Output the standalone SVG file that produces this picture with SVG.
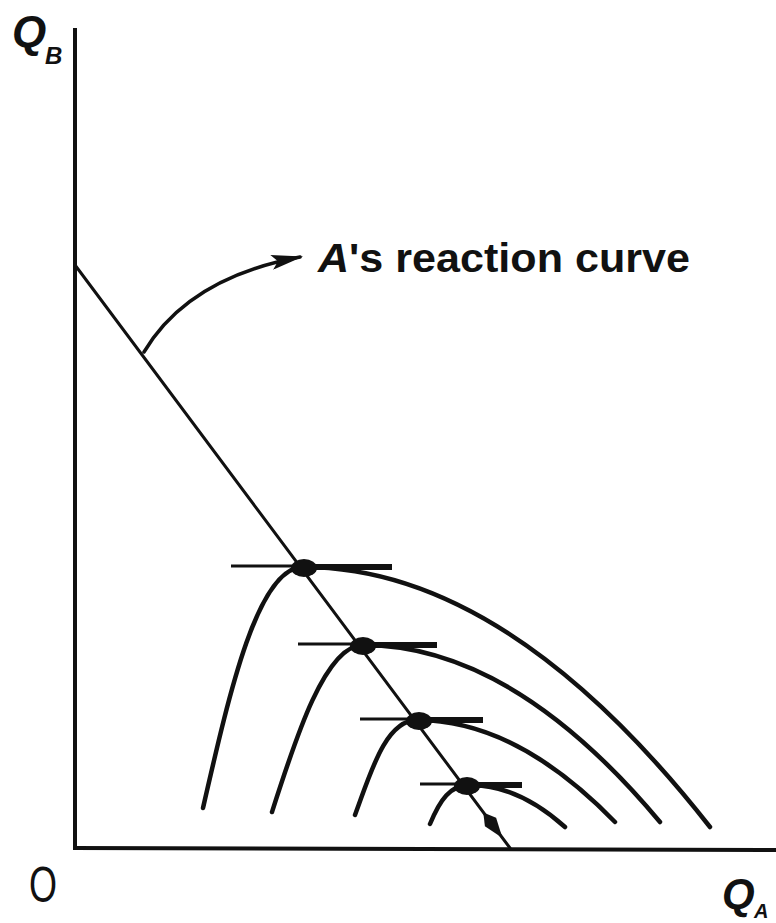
<svg xmlns="http://www.w3.org/2000/svg" width="776" height="923" viewBox="0 0 776 923">
<defs>
<style>
.ax{stroke:#111;stroke-width:4;fill:none}
.ln{stroke:#111;stroke-width:3;fill:none;stroke-linecap:round}
.cv{stroke:#111;stroke-width:4.5;fill:none;stroke-linecap:round}
.thin{stroke:#111;stroke-width:3;fill:none}
.thick{stroke:#111;stroke-width:6;fill:none}
.dot{fill:#111}
.lbl{font-family:"Liberation Sans",Arial,sans-serif;fill:#111}
</style>
<marker id="ah" viewBox="0 0 10 10" refX="9" refY="5" markerWidth="32" markerHeight="15" markerUnits="userSpaceOnUse" orient="auto" preserveAspectRatio="none">
<path d="M0,0 L10,5 L0,10 L2,5 Z" fill="#111"/>
</marker>
</defs>
<rect width="776" height="923" fill="#fff"/>
<g id="axes">
<line class="ax" x1="75" y1="28" x2="75" y2="848"/>
<line class="ax" x1="73" y1="848" x2="776" y2="850"/>
</g>
<g id="labels">
<text class="lbl" x="12" y="47" font-size="44" font-style="italic" font-weight="bold">Q</text>
<text class="lbl" x="45" y="64" font-size="24" font-style="italic" font-weight="bold">B</text>
<text class="lbl" x="29" y="902" font-size="50" textLength="28" lengthAdjust="spacingAndGlyphs">O</text>
<text class="lbl" x="722" y="908" font-size="42" font-style="italic" font-weight="bold">Q</text>
<text class="lbl" x="754" y="918" font-size="20" font-style="italic" font-weight="bold">A</text>
</g>
<g id="reaction-curve">
<line class="ln" x1="75" y1="265" x2="510" y2="848"/>
<polygon class="dot" points="502.5,838 496.1,817.8 483.3,812.4 484.9,826.2"/>
</g>
<g id="label-reaction">
<text class="lbl" x="318" y="272" font-size="40" font-weight="bold" textLength="372" lengthAdjust="spacingAndGlyphs"><tspan font-style="italic">A</tspan>'s reaction curve</text>
</g>
<g id="connectors">
<path class="ln" d="M 144 352 Q 188 278 300 257" marker-end="url(#ah)" style="stroke-width:3.5"/>
</g>
<g id="isoprofit-1">
<path class="cv" d="M 203 808 C 230 690 258 567 303 567 Q 506 567 710 827"/>
<line class="thin" x1="231" y1="566" x2="303" y2="566"/>
<line class="thick" x1="303" y1="567" x2="392" y2="567"/>
<ellipse class="dot" cx="304" cy="568" rx="13" ry="9"/>
</g>
<g id="isoprofit-2">
<path class="cv" d="M 272 812 C 295 740 325 645 363 645 Q 512 645 660 822"/>
<line class="thin" x1="298" y1="644" x2="363" y2="644"/>
<line class="thick" x1="363" y1="645" x2="437" y2="645"/>
<ellipse class="dot" cx="363" cy="646" rx="13" ry="9"/>
</g>
<g id="isoprofit-3">
<path class="cv" d="M 355 815 C 370 775 385 720 417 720 Q 516 720 615 822"/>
<line class="thin" x1="360" y1="719" x2="417" y2="719"/>
<line class="thick" x1="417" y1="720" x2="483" y2="720"/>
<ellipse class="dot" cx="419" cy="721" rx="13" ry="9"/>
</g>
<g id="isoprofit-4">
<path class="cv" d="M 430 824 C 440 800 450 785 470 785 Q 518 785 565 827"/>
<line class="thin" x1="420" y1="784" x2="470" y2="784"/>
<line class="thick" x1="470" y1="785" x2="522" y2="785"/>
<ellipse class="dot" cx="467" cy="786" rx="13" ry="9"/>
</g>
</svg>
